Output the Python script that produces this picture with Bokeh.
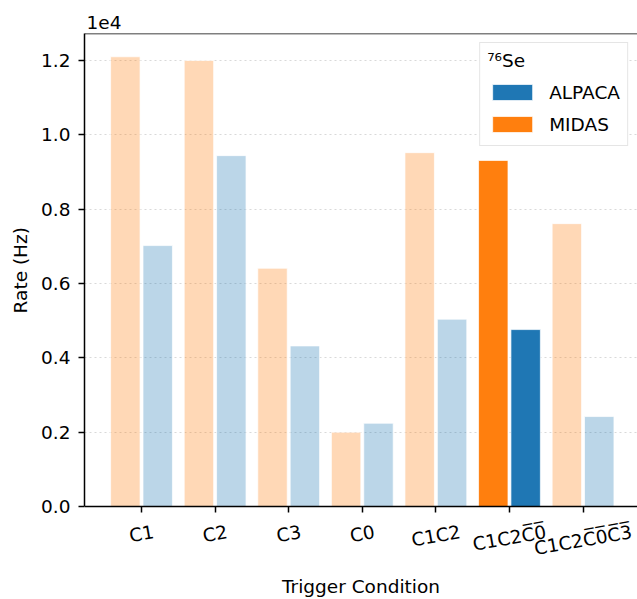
import math
import numpy as np
from bokeh.plotting import figure
from bokeh.core.properties import value
from bokeh.models import (ColumnDataSource, Range1d, FixedTicker, CustomJSTickFormatter,
                          Legend, LegendItem, Span, Title)
from bokeh.transform import dodge
from bokeh.embed import file_html
from bokeh.resources import INLINE

# Trigger conditions (overlined terms written with combining overline U+0305)
conditions = ["C1", "C2", "C3", "C0", "C1C2",
              "C1C2C\u03050\u0305",
              "C1C2C\u03050\u0305C\u03053\u0305"]
midas_rate = [12100, 12000, 6410, 2000, 9520, 9310, 7610]    # Hz
alpaca_rate = [7020, 9440, 4320, 2240, 5040, 4760, 2420]     # Hz
highlighted = "C1C2C\u03050\u0305"
isotope = "\u2077\u2076Se"
y_ticks = [0, 2000, 4000, 6000, 8000, 10000, 12000]

FONT = "DejaVu Sans"
FS = "18.5px"
ALPACA_C = "#1f77b4"
MIDAS_C = "#ff7f0e"
ANGLE = 10.0
Y_TOP = 12726
PX_PER_HZ = 473 / Y_TOP          # frame pixels per Hz above the baseline
BELOW_PX = 93                    # room kept under the baseline for the labels

idx = np.arange(len(conditions))
hi = conditions.index(highlighted)
alpha = [1.0 if c == highlighted else 0.3 for c in conditions]

# rotated labels keep their bounding-box top just under the ticks
n_vis = [sum(1 for ch in c if ch != "\u0305") for c in conditions]
yoff = [25.0 + 0.5 * n * 12.3 * math.sin(math.radians(ANGLE)) for n in n_vis]

src = ColumnDataSource(dict(x=idx, midas=midas_rate, alpaca=alpaca_rate,
                            alpha=alpha, label=conditions, yoff=yoff))

# the frame reaches below zero so the slanted labels can live inside it
p = figure(frame_width=553, frame_height=473 + BELOW_PX,
           x_range=Range1d(-0.775, 6.74),
           y_range=Range1d(-BELOW_PX / PX_PER_HZ, Y_TOP),
           x_axis_location="above",
           output_backend="svg", toolbar_location=None,
           min_border_left=84, min_border_right=0, min_border_top=33, min_border_bottom=0,
           title="1e4")
p.outline_line_color = None
p.background_fill_color = "white"
p.border_fill_color = "white"

p.title.text_font = FONT
p.title.text_font_size = FS
p.title.text_font_style = "normal"
p.title.text_color = "black"
p.title.align = "left"
p.title.offset = 2
p.title.standoff = 9

r_m = p.vbar(x=dodge("x", -0.22), top="midas", bottom=0, width=0.4, source=src,
             fill_color=MIDAS_C, fill_alpha="alpha",
             line_color="white", line_alpha=0.7, line_width=1)
r_a = p.vbar(x=dodge("x", 0.22), top="alpaca", bottom=0, width=0.4, source=src,
             fill_color=ALPACA_C, fill_alpha="alpha",
             line_color="white", line_alpha=0.7, line_width=1)

# top spine only
p.add_layout(Span(location=Y_TOP, dimension="width",
                  line_color="black", line_width=1.5))

# axes
for ax in (p.xaxis[0], p.yaxis[0]):
    ax.axis_line_width = 1.5
    ax.axis_line_color = "black"
    ax.major_tick_line_width = 1.5
    ax.major_tick_line_color = "black"
    ax.minor_tick_line_color = None
    ax.major_label_text_font = FONT
    ax.major_label_text_font_size = FS
    ax.major_label_text_color = "black"

# category axis pinned at zero, ticks pointing down
xa = p.xaxis[0]
xa.fixed_location = 0
xa.ticker = FixedTicker(ticks=list(idx))
xa.formatter = CustomJSTickFormatter(code="return '';")
xa.major_label_text_font_size = "0px"
xa.major_label_standoff = 0
xa.major_tick_out = 0
xa.major_tick_in = 6

ya = p.yaxis[0]
ya.bounds = (0, Y_TOP)
ya.major_tick_out = 6
ya.major_tick_in = 0
ya.ticker = FixedTicker(ticks=y_ticks)
ya.formatter = CustomJSTickFormatter(code="return (tick / 1e4).toFixed(1);")
ya.major_label_standoff = 8

# y axis title, centred on the part of the frame above zero
y_title = "Rate (Hz)"
y_title_len = 86.8
y_title_offset = BELOW_PX + 473 / 2 - y_title_len / 2
p.add_layout(Title(text=y_title, align="left", offset=y_title_offset, standoff=15,
                   text_font=FONT, text_font_size=FS, text_font_style="normal",
                   text_color="black"), "left")

p.xgrid.visible = False
p.ygrid.ticker = FixedTicker(ticks=y_ticks)
p.ygrid.grid_line_color = "#cfcfcf"
p.ygrid.grid_line_alpha = 0.8
p.ygrid.grid_line_dash = "2 3"
p.ygrid.grid_line_width = 1

# slanted category labels
p.text(x="x", y=0, text="label", source=src,
       y_offset="yoff", angle=ANGLE, angle_units="deg",
       text_align="center", text_baseline="middle",
       text_font=value(FONT), text_font_size=value(FS), text_color="black")

# x axis title, centred under the frame
x_mid = (p.x_range.start + p.x_range.end) / 2
p.text(x=[x_mid], y=[0], text=["Trigger Condition"], y_offset=79.5,
       text_align="center", text_baseline="middle",
       text_font=value(FONT), text_font_size=value(FS), text_color="black")

legend = Legend(items=[LegendItem(label="ALPACA", renderers=[r_a], index=hi),
                       LegendItem(label="MIDAS", renderers=[r_m], index=hi)],
                location="top_right", title=isotope)
legend.title_text_font = FONT
legend.title_text_font_size = FS
legend.title_text_font_style = "normal"
legend.title_text_color = "black"
legend.title_standoff = 7
legend.label_text_font = FONT
legend.label_text_font_size = FS
legend.label_text_color = "black"
legend.glyph_width = 50
legend.glyph_height = 20
legend.label_height = 28
legend.label_standoff = 12
legend.spacing = 4
legend.padding = 7
legend.margin = 9
legend.border_line_color = "#cccccc"
legend.border_line_width = 1
legend.background_fill_color = "white"
legend.background_fill_alpha = 1
p.add_layout(legend)

open("out.html", "w").write(file_html(p, INLINE))
